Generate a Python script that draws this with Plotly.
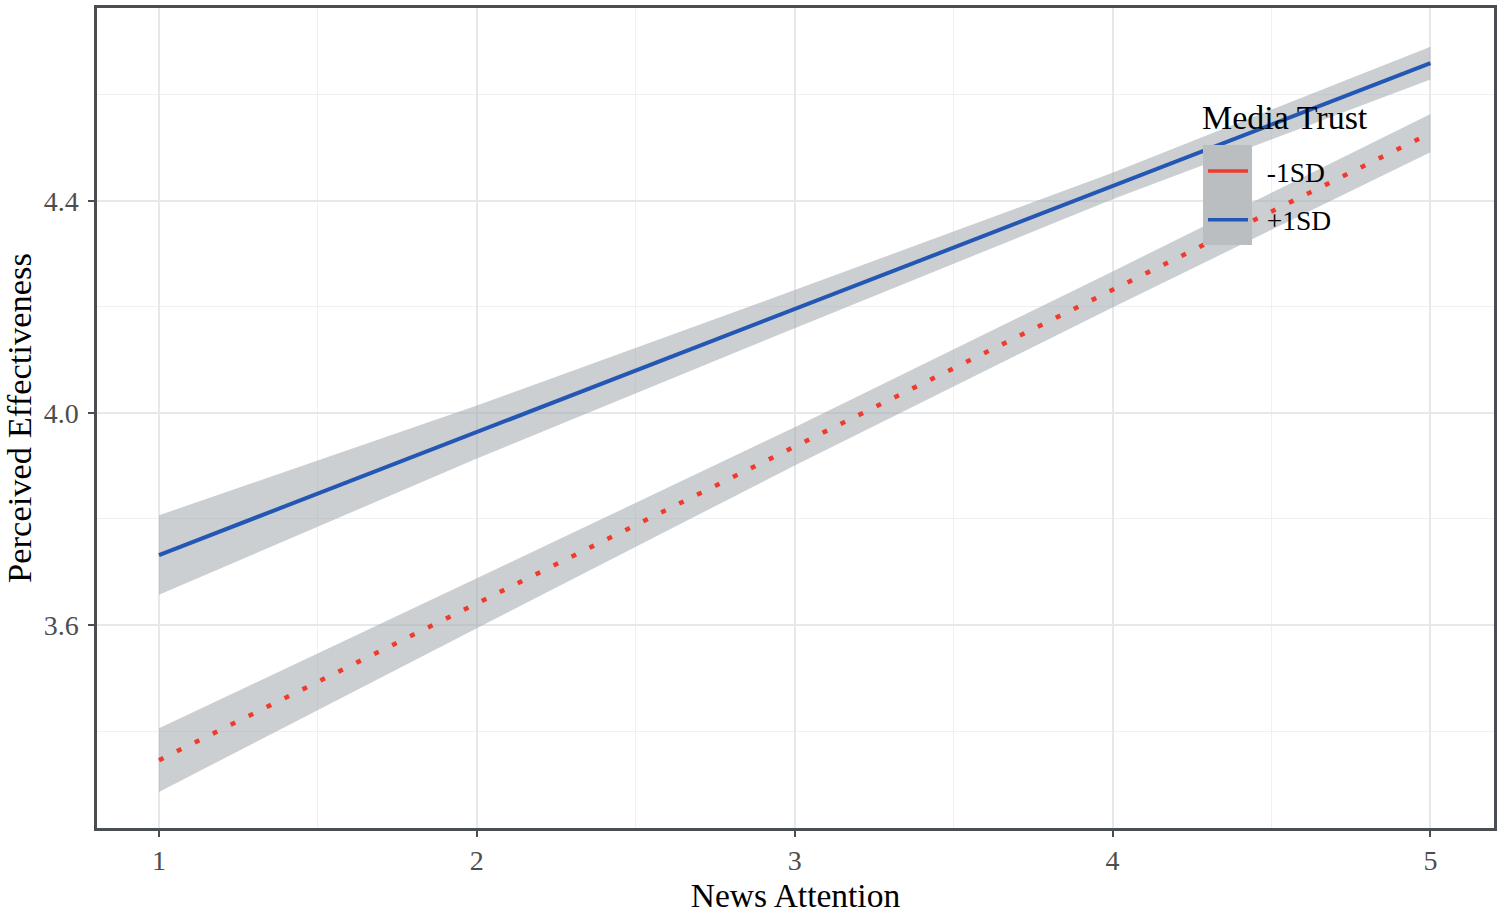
import plotly.graph_objects as go

# ---- data ----
news_attention = [1, 2, 3, 4, 5]

plus_fit = [3.732, 3.964, 4.196, 4.428, 4.660]
plus_lower = [3.657, 3.914, 4.160, 4.403, 4.629]
plus_upper = [3.807, 4.014, 4.232, 4.453, 4.691]

minus_fit = [3.345, 3.641, 3.937, 4.233, 4.528]
minus_lower = [3.285, 3.594, 3.901, 4.199, 4.492]
minus_upper = [3.405, 3.688, 3.973, 4.267, 4.564]

series_labels = ["-1SD", "+1SD"]
legend_title = "Media Trust"
x_ticks = [1, 2, 3, 4, 5]
y_ticks = [3.6, 4.0, 4.4]

FONT = "Liberation Serif, Times New Roman, serif"
RED = "#f03a2c"
BLUE = "#2457b3"
BAND = "rgba(160,168,173,0.55)"

fig = go.Figure()

def band(lower, upper):
    fig.add_trace(go.Scatter(x=news_attention, y=upper, mode="lines",
                             line=dict(width=0), showlegend=False, hoverinfo="skip"))
    fig.add_trace(go.Scatter(x=news_attention, y=lower, mode="lines",
                             line=dict(width=0), fill="tonexty", fillcolor=BAND,
                             showlegend=False, hoverinfo="skip"))

band(minus_lower, minus_upper)
band(plus_lower, plus_upper)

fig.add_trace(go.Scatter(x=news_attention, y=minus_fit, mode="lines",
                         line=dict(color=RED, width=4.5, dash="5px,15px"),
                         showlegend=False))
fig.add_trace(go.Scatter(x=news_attention, y=plus_fit, mode="lines",
                         line=dict(color=BLUE, width=4),
                         showlegend=False))

# legend entries (solid keys as in the reference)
NB = "\u00a0\u00a0"
for name, col, grp in [(series_labels[0], RED, "a"), (series_labels[1], BLUE, "b")]:
    fig.add_trace(go.Scatter(x=[None], y=[None], mode="lines", name=NB + name,
                             legendgroup=grp, line=dict(color=col, width=3.5)))

fig.add_shape(type="rect", xref="paper", yref="paper",
              x0=0.7917, x1=0.8268, y0=0.711, y1=0.833,
              fillcolor="rgb(187,190,192)", line=dict(width=0), layer="above")

fig.add_annotation(text=legend_title, xref="paper", yref="paper",
                   x=0.7896, y=0.867, xanchor="left", yanchor="middle",
                   showarrow=False, font=dict(size=34, family=FONT, color="black"))

fig.update_layout(
    width=1500, height=914,
    margin=dict(l=97, r=6, t=8, b=86),
    paper_bgcolor="white", plot_bgcolor="white",
    font=dict(family=FONT, color="black"),
    legend=dict(
        x=0.7917, y=0.831, xanchor="left", yanchor="top",
        bgcolor="rgba(0,0,0,0)",
        font=dict(size=27.5, family=FONT),
        traceorder="grouped", tracegroupgap=10, itemwidth=40,
    ),
    xaxis=dict(
        range=[0.805, 5.2], tickvals=x_ticks, ticktext=[str(v) for v in x_ticks],
        showgrid=True, gridcolor="#e6e8ea", gridwidth=1.5,
        minor=dict(dtick=0.5, tick0=0, showgrid=True, gridcolor="#eef0f1", gridwidth=1),
        showline=True, linecolor="#4a4e52", linewidth=2.5, mirror=True,
        ticks="outside", ticklen=6, tickwidth=2, tickcolor="#4a4e52",
        tickfont=dict(size=28, color="#4d4d4d", family=FONT),
        title=dict(text="News Attention", font=dict(size=33.5, family=FONT), standoff=10),
        zeroline=False, automargin=False,
    ),
    yaxis=dict(
        range=[3.217, 4.764], tickvals=y_ticks, ticktext=[f"{v:.1f}" for v in y_ticks],
        showgrid=True, gridcolor="#e6e8ea", gridwidth=1.5,
        minor=dict(dtick=0.2, tick0=3.4, showgrid=True, gridcolor="#eef0f1", gridwidth=1),
        showline=True, linecolor="#4a4e52", linewidth=2.5, mirror=True,
        ticks="outside", ticklen=6, tickwidth=2, tickcolor="#4a4e52",
        tickfont=dict(size=28, color="#4d4d4d", family=FONT),
        ticklabelstandoff=4,
        title=dict(text="Perceived Effectiveness", font=dict(size=34.5, family=FONT), standoff=14),
        zeroline=False, automargin=False,
    ),
)

fig.write_html("out.html",
               config={"displayModeBar": False},
               post_script="document.body.style.margin='0';document.body.style.overflow='hidden';")
